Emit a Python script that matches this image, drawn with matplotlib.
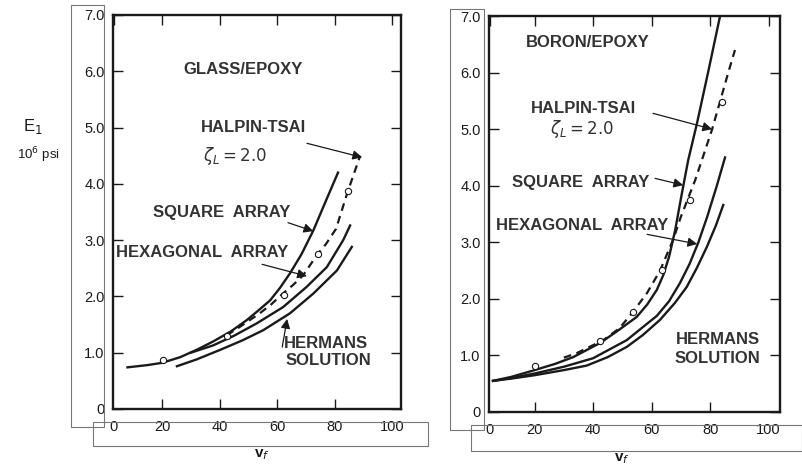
import matplotlib.pyplot as plt
from matplotlib.patches import Rectangle

plt.rcParams['font.family'] = ['Liberation Sans', 'DejaVu Sans']

INK = '#1a1a1a'

# --- GLASS/EPOXY (left) ---
g_square_x = [8, 15, 20, 26.3, 32, 37.8, 44, 49.5, 53.5, 57.6, 61, 64.5, 68.5, 72.6, 77, 81.2]
g_square_y = [0.74, 0.78, 0.82, 0.92, 1.05, 1.2, 1.38, 1.58, 1.75, 1.93, 2.15, 2.41, 2.75, 3.17, 3.7, 4.2]
g_hex_x = [30, 37.8, 45, 52.9, 62.1, 70.3, 77.3, 83, 85.4]
g_hex_y = [1.0, 1.13, 1.3, 1.52, 1.81, 2.17, 2.52, 3.0, 3.26]
g_herm_x = [25.2, 32, 40.2, 48, 55.2, 64.5, 72.6, 80.8, 86]
g_herm_y = [0.76, 0.88, 1.05, 1.22, 1.4, 1.7, 2.05, 2.46, 2.88]
g_ht_x = [42.5, 47.1, 54, 58, 62, 65.5, 69, 73.8, 77, 80.5, 84.5, 88.9]
g_ht_y = [1.31, 1.46, 1.7, 1.86, 2.05, 2.2, 2.37, 2.73, 2.93, 3.2, 3.85, 4.5]
g_pts_x = [20.4, 42.6, 62.5, 74.3, 84.5]
g_pts_y = [0.87, 1.3, 2.03, 2.75, 3.88]

# --- BORON/EPOXY (right) ---
b_square_x = [5.8, 12, 20, 27, 33.2, 42.4, 48, 54.9, 58.5, 61.8, 64, 66, 68, 70.3, 72.5, 75.5, 79.5, 83.4]
b_square_y = [0.55, 0.62, 0.74, 0.85, 0.97, 1.22, 1.42, 1.68, 1.9, 2.16, 2.42, 2.75, 3.2, 3.85, 4.45, 5.1, 6.05, 7.0]
b_hex_x = [5.8, 12, 20, 30, 40, 51.5, 61.8, 66, 69.7, 73, 76, 79, 82.3, 85.1]
b_hex_y = [0.55, 0.6, 0.68, 0.8, 0.95, 1.27, 1.7, 1.96, 2.28, 2.62, 3.0, 3.45, 4.0, 4.5]
b_herm_x = [5.8, 12, 20, 30, 37.8, 45, 51.5, 57, 62.9, 68, 72, 75.5, 78.9, 82, 84.5]
b_herm_y = [0.55, 0.59, 0.65, 0.74, 0.82, 0.97, 1.15, 1.36, 1.63, 1.93, 2.21, 2.55, 2.92, 3.3, 3.66]
b_ht_x = [30, 34.4, 43.5, 49, 53.2, 58.4, 62.9, 67.4, 70, 74.9, 80.7, 86.2, 88.5]
b_ht_y = [0.96, 1.04, 1.27, 1.48, 1.74, 2.1, 2.5, 3.05, 3.45, 4.1, 5.0, 6.0, 6.4]
b_pts_x = [20.2, 42.4, 53.8, 63.6, 73.2, 84.0]
b_pts_y = [0.82, 1.26, 1.77, 2.51, 3.75, 5.48]

y_ticks = [0, 1, 2, 3, 4, 5, 6, 7]
y_labels = ['0', '1.0', '2.0', '3.0', '4.0', '5.0', '6.0', '7.0']
x_labels = ['0', '20', '40', '60', '80', '100']

fig = plt.figure(figsize=(8.03, 4.68), dpi=100)


def panel(rect, xlim, sq, hx, hm, ht, pts):
    ax = fig.add_axes(rect)
    ax.plot(*sq, color=INK, lw=1.7)
    ax.plot(*hx, color=INK, lw=1.7)
    ax.plot(*hm, color=INK, lw=1.7)
    ax.plot(*ht, color=INK, lw=1.6, ls=(0, (3.5, 2.5)))
    ax.plot(*pts, ls='none', marker='o', ms=4.5, mfc='white', mec=INK, mew=0.8)
    ax.set_xlim(*xlim)
    ax.set_ylim(0, 7)
    ax.set_xticks([xlim[0] + 0.3, 20, 40, 60, 80, 100])
    ax.set_xticklabels(x_labels)
    ax.set_yticks(y_ticks)
    ax.set_yticklabels(y_labels)
    for i in (0, 5):
        t = ax.xaxis.get_major_ticks()[i]
        t.tick1line.set_visible(False)
        t.tick2line.set_visible(False)
    ax.tick_params(direction='in', length=7, width=1, top=True, right=True,
                   labelsize=10.5, colors=INK)
    ax.tick_params(axis='x', pad=8)
    ax.tick_params(axis='y', pad=6)
    for s in ax.spines.values():
        s.set_linewidth(1.7)
        s.set_color(INK)
    return ax


arrow = dict(arrowstyle='-|>', color=INK, lw=0.9, mutation_scale=14,
             shrinkA=0, shrinkB=0)
txt = dict(fontsize=12, fontweight='bold', color='#333333',
           ha='center', va='center')

ax1 = panel([0.1407, 0.1261, 0.3587, 0.8419], (2.96, 103.1),
            (g_square_x, g_square_y), (g_hex_x, g_hex_y),
            (g_herm_x, g_herm_y), (g_ht_x, g_ht_y), (g_pts_x, g_pts_y))
ax1.text(48.2, 6.03, 'GLASS/EPOXY', **txt)
ax1.text(51.7, 5.0, 'HALPIN-TSAI', **txt)
ax1.text(45.4, 4.5, r'$\zeta_L = 2.0$', **txt)
ax1.annotate('', xy=(89.6, 4.47), xytext=(70.4, 4.72), arrowprops=arrow)
ax1.text(40.9, 3.49, 'SQUARE  ARRAY', **txt)
ax1.annotate('', xy=(72.6, 3.16), xytext=(63.8, 3.31), arrowprops=arrow)
ax1.text(33.9, 2.78, 'HEXAGONAL  ARRAY', **txt)
ax1.annotate('', xy=(70.4, 2.36), xytext=(54.8, 2.57), arrowprops=arrow)
ax1.text(77.0, 1.17, 'HERMANS', **txt)
ax1.text(78.0, 0.87, 'SOLUTION', **txt)
ax1.annotate('', xy=(63.5, 1.6), xytext=(61.8, 1.1), arrowprops=arrow)

ax2 = panel([0.609, 0.1197, 0.3624, 0.846], (4.44, 103.9),
            (b_square_x, b_square_y), (b_hex_x, b_hex_y),
            (b_herm_x, b_herm_y), (b_ht_x, b_ht_y), (b_pts_x, b_pts_y))
ax2.text(38.3, 6.54, 'BORON/EPOXY', **txt)
ax2.text(36.6, 5.37, 'HALPIN-TSAI', **txt)
ax2.text(36.2, 5.0, r'$\zeta_L = 2.0$', **txt)
ax2.annotate('', xy=(80.7, 5.0), xytext=(60.5, 5.28), arrowprops=arrow)
ax2.text(35.6, 4.06, 'SQUARE  ARRAY', **txt)
ax2.annotate('', xy=(70.8, 4.01), xytext=(61.2, 4.13), arrowprops=arrow)
ax2.text(36.2, 3.29, 'HEXAGONAL  ARRAY', **txt)
ax2.annotate('', xy=(75.6, 2.97), xytext=(58.5, 3.14), arrowprops=arrow)
ax2.text(82.7, 1.29, 'HERMANS', **txt)
ax2.text(82.4, 0.95, 'SOLUTION', **txt)

# axis titles
fig.text(33 / 803, 1 - 127 / 468, 'E$_1$', fontsize=12, color=INK,
         ha='center', va='center')
fig.text(38 / 803, 1 - 155 / 468, '10$^6$ psi', fontsize=9.5, color=INK,
         ha='center', va='center')
fig.text(262 / 803, 1 - 455 / 468, 'v$_f$', fontsize=11, fontweight='bold',
         color=INK, ha='center', va='center')
fig.text(622 / 803, 1 - 459 / 468, 'v$_f$', fontsize=11, fontweight='bold',
         color=INK, ha='center', va='center')

# thin boxes round the tick labels, as in the scan
boxes = [(71, 5, 104, 427), (93, 422, 428, 446),
         (450, 9, 484, 430), (471, 425, 802, 451)]
for x0, y0, x1, y1 in boxes:
    fig.add_artist(Rectangle((x0 / 803, 1 - y1 / 468), (x1 - x0) / 803,
                             (y1 - y0) / 468, transform=fig.transFigure,
                             fill=False, ec='#777777', lw=0.8))

plt.savefig('out.png', dpi=100)
